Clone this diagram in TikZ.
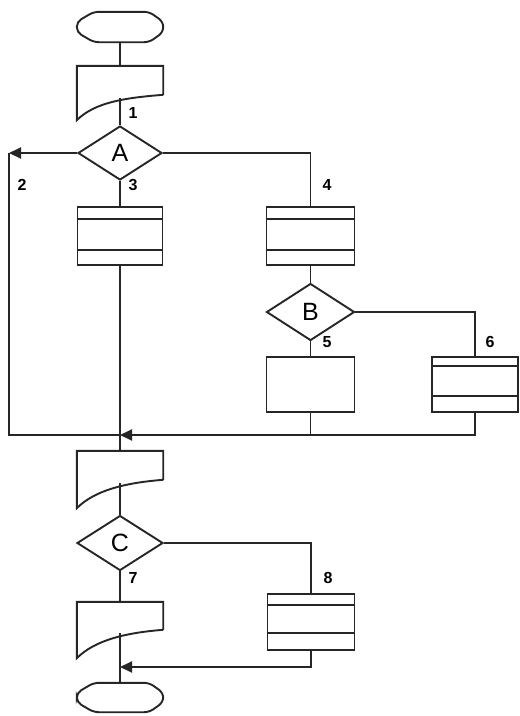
\documentclass[tikz,border=0pt]{standalone}
\usepackage{fontspec}
\setmainfont{Liberation Sans}
\usetikzlibrary{shapes.geometric,arrows.meta,calc}
\tikzset{
  ln/.style={draw=black!85, line width=1.9pt},
  arr/.style={ln, -{Triangle[length=12pt,width=11pt]}},
  frame/.style={rectangle, inner sep=0pt, draw=none},
  procbox/.style={rectangle, inner sep=0pt, ln, fill=white},
  decision/.style={diamond, inner sep=0pt, ln, fill=white, font=\fontsize{25}{25}\selectfont},
  num/.style={font=\bfseries\fontsize{16}{16}\selectfont, inner sep=0pt}
}
\newcommand{\docshape}[2]{%
  \draw[ln] ([yshift=-#2pt]#1.north east) -- (#1.north east) -- (#1.north west) -- (#1.south west)
    .. controls +(18pt,18pt) and +(-38pt,-3pt) .. ([yshift=-#2pt]#1.north east);}
\newcommand{\termshape}[1]{%
  \draw[ln, rounded corners=5pt] ([xshift=17pt]#1.north west) -- ([xshift=-14pt]#1.north east)
    -- ([yshift=-10pt]#1.north east) -- ([yshift=10pt]#1.south east) -- ([xshift=-14pt]#1.south east)
    -- ([xshift=17pt]#1.south west) -- ([yshift=10pt]#1.south west) -- ([yshift=-10pt]#1.north west) -- cycle;}
\newcommand{\twolines}[3]{%
  \draw[ln] ([yshift=-#2pt]#1.north west) -- ([yshift=-#2pt]#1.north east);
  \draw[ln] ([yshift=#3pt]#1.south west) -- ([yshift=#3pt]#1.south east);}
\begin{document}
\begin{tikzpicture}[x=1pt,y=-1pt]
\useasboundingbox[fill=white] (0,0) rectangle (520,716);
% shapes
\node[frame, minimum width=86pt, minimum height=30pt] (T1) at (120,27) {};
\termshape{T1}
\node[frame, minimum width=86pt, minimum height=54pt] (D1) at (120,93) {};
\docshape{D1}{29}
\coordinate (d1b) at (120,98);
\node[decision, minimum width=84pt, minimum height=54pt] (A) at (120,153) {A};
\node[procbox, minimum width=85pt, minimum height=58pt] (P3) at (120,236) {};
\twolines{P3}{13}{16}
\node[procbox, minimum width=88pt, minimum height=58pt] (P4) at (310.5,236) {};
\twolines{P4}{13}{16}
\node[decision, minimum width=88pt, minimum height=57pt] (B) at (310.5,312) {B};
\node[procbox, minimum width=88pt, minimum height=55pt] (P5) at (310.5,384.5) {};
\node[procbox, minimum width=86pt, minimum height=55pt] (P6) at (475,384.5) {};
\twolines{P6}{10}{17}
\coordinate (c2) at (9,153);
\coordinate (j1) at (120,435);
\node[frame, minimum width=86pt, minimum height=57pt] (D2) at (120,479.5) {};
\docshape{D2}{29}
\coordinate (d2b) at (120,483);
\node[decision, minimum width=86pt, minimum height=55pt] (C) at (120,543) {C};
\node[procbox, minimum width=87pt, minimum height=56pt] (P8) at (311,622) {};
\twolines{P8}{12}{18}
\node[frame, minimum width=86pt, minimum height=56pt] (D3) at (120,630) {};
\docshape{D3}{28}
\coordinate (d3b) at (120,633);
\coordinate (j2) at (120,667);
\node[frame, minimum width=86pt, minimum height=29pt] (T2) at (120,697.5) {};
\termshape{T2}
% connectors
\draw[ln] (T1.south) -- (D1.north);
\draw[ln] (d1b) -- (A.north);
\draw[ln] (A.south) -- (P3.north);
\draw[arr] (A.west) -- (c2);
\draw[ln] (c2) |- (j1);
\draw[ln] (A.east) -| (P4.north);
\draw[ln] (P4.south) -- (B.north);
\draw[ln] (B.south) -- (P5.north);
\draw[ln] (B.east) -| (P6.north);
\draw[ln] (P5.south) -- (P5.south |- j1);
\draw[arr] (P6.south) |- (j1);
\draw[ln] (P3.south) -- (D2.north);
\draw[ln] (d2b) -- (C.north);
\draw[ln] (C.south) -- (D3.north);
\draw[ln] (C.east) -| (P8.north);
\draw[arr] (P8.south) |- (j2);
\draw[ln] (d3b) -- (T2.north);
% labels
\node[num] (n1) at (133,113) {1};
\node[num] (n2) at (22,185) {2};
\node[num] (n3) at (133,185) {3};
\node[num] (n4) at (327,185) {4};
\node[num] (n5) at (327,342) {5};
\node[num] (n6) at (490,342) {6};
\node[num] (n7) at (133,578) {7};
\node[num] (n8) at (328,578) {8};
\end{tikzpicture}
\end{document}
